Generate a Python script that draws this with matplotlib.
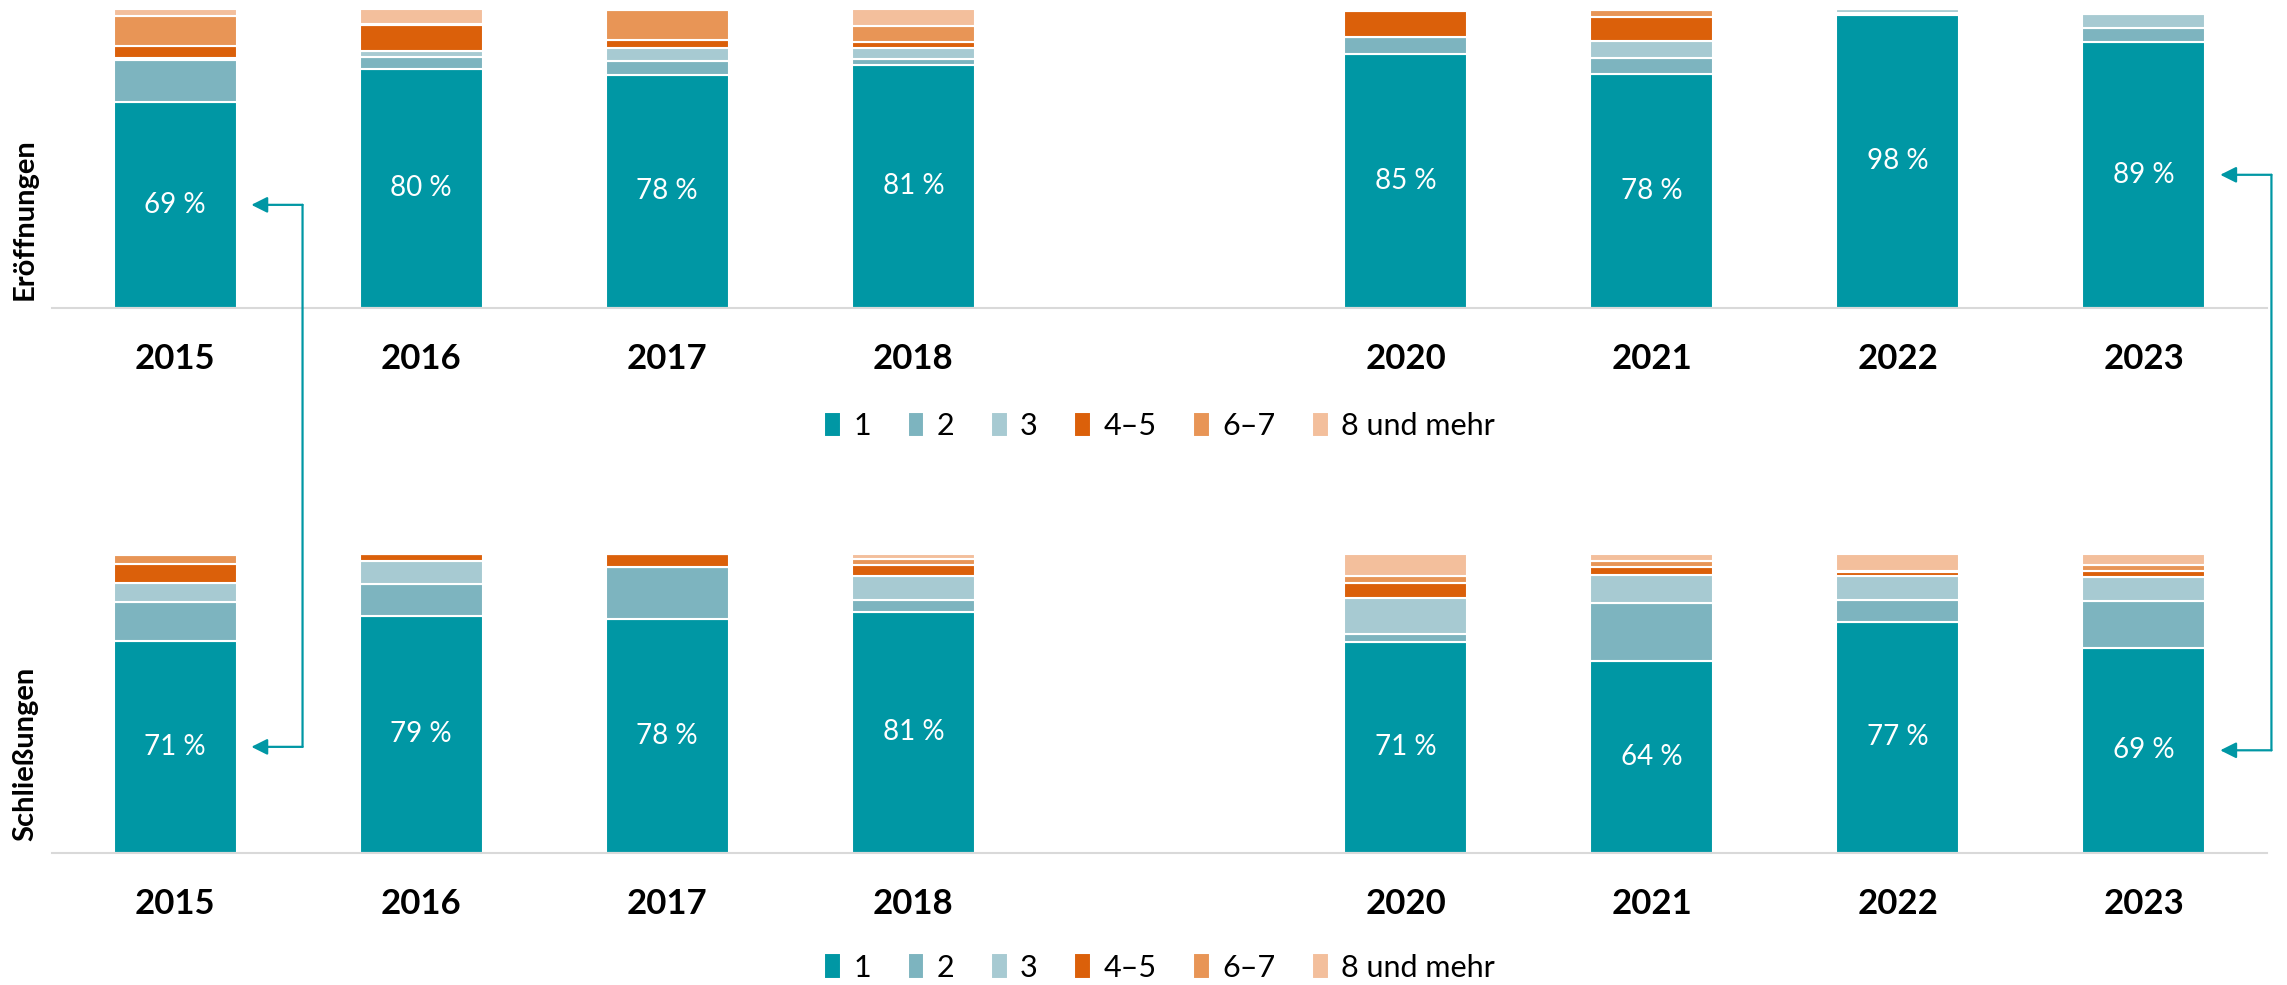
import matplotlib
matplotlib.use("Agg")
import matplotlib.pyplot as plt
from matplotlib.patches import ConnectionPatch

plt.rcParams['font.family'] = ['Lato', 'DejaVu Sans']

# Jahre (2019 fehlt -> Lücke im Diagramm)
years = ['2015', '2016', '2017', '2018', '2020', '2021', '2022', '2023']
slots = [0, 1, 2, 3, 5, 6, 7, 8]
groups = ['1', '2', '3', '4–5', '6–7', '8 und mehr']
colors = ['#0097A4', '#7DB4BF', '#A7CAD2', '#DB600A', '#E89556', '#F3BF9C']

# Eröffnungen, Anteile in %
eroeff_1 = [69, 80, 78, 81.4, 85, 78.4, 98, 89.1]
eroeff_2 = [14, 4, 4.5, 2, 5.5, 5.3, 0.5, 4.7]
eroeff_3 = [0.5, 2, 4.5, 3.5, 0.3, 5.7, 1.5, 4.4]
eroeff_45 = [4, 8.5, 2.5, 2, 8.5, 8, 0, 0.7]
eroeff_67 = [10, 0.5, 10, 5.5, 0.5, 2.3, 0, 0.8]
eroeff_8 = [2.5, 5, 0.5, 5.6, 0.2, 0.3, 0, 0.3]

# Schließungen, Anteile in %
schl_1 = [71, 79.4, 78.4, 80.7, 70.7, 64.3, 77.3, 68.7]
schl_2 = [12.8, 10.5, 17.2, 3.9, 2.5, 19.2, 7.3, 15.7]
schl_3 = [6.5, 7.8, 0.2, 7.9, 12.2, 9.5, 7.9, 7.9]
schl_45 = [6.5, 2.3, 4.2, 3.8, 5.0, 2.5, 1.6, 2.0]
schl_67 = [3, 0, 0, 2.0, 2.4, 2.3, 0.3, 2.0]
schl_8 = [0.2, 0, 0, 1.7, 7.2, 2.2, 5.6, 3.7]

teal = '#0097A4'

fig = plt.figure(figsize=(22.87, 9.85), dpi=100)
ax1 = fig.add_axes([52 / 2287, 1 - 308 / 985, 2215 / 2287, 299 / 985])
ax2 = fig.add_axes([52 / 2287, 1 - 853 / 985, 2215 / 2287, 299 / 985])


def draw_panel(ax, series, leg_y):
    bottom = [0] * len(slots)
    for vals, name, col in zip(series, groups, colors):
        ax.bar(slots, vals, bottom=bottom, width=0.5, color=col,
               edgecolor='white', linewidth=1.5, label=name)
        bottom = [b + v for b, v in zip(bottom, vals)]
    for x, v in zip(slots, series[0]):
        ax.text(x, v / 2, f'{round(v)} %', ha='center', va='center',
                color='white', fontsize=20)
    ax.set_xlim(-0.5, 8.5)
    ax.set_ylim(0, 100)
    ax.set_xticks(slots)
    ax.set_xticklabels(years, fontsize=25, fontweight='bold')
    ax.tick_params(axis='x', length=0, pad=25)
    ax.set_yticks([])
    for s in ['top', 'left', 'right']:
        ax.spines[s].set_visible(False)
    ax.spines['bottom'].set_color('#D9D9D9')
    ax.spines['bottom'].set_linewidth(1.5)
    ax.legend(loc='center', bbox_to_anchor=(0.5, leg_y), ncol=6, frameon=False,
              fontsize=22, handlelength=0.55, handleheight=0.9,
              handletextpad=0.4, columnspacing=1.2)


draw_panel(ax1, [eroeff_1, eroeff_2, eroeff_3, eroeff_45, eroeff_67, eroeff_8], -0.395)
draw_panel(ax2, [schl_1, schl_2, schl_3, schl_45, schl_67, schl_8], -0.383)

fig.text(25 / 2287, 1 - 219 / 985, 'Eröffnungen', rotation=90, ha='center',
         va='center', fontsize=21, fontweight='bold')
fig.text(25 / 2287, 1 - 754 / 985, 'Schließungen', rotation=90, ha='center',
         va='center', fontsize=21, fontweight='bold')

# Verbindungspfeile 2015 und 2023 (rechts neben dem Balken)
aprops = dict(arrowstyle='-|>', color=teal, lw=1.6, mutation_scale=24,
              shrinkA=0, shrinkB=0)
for i in [0, 7]:
    x = slots[i]
    y_top = eroeff_1[i] / 2
    y_bot = schl_1[i] / 2
    con = ConnectionPatch(xyA=(x + 0.518, y_top), coordsA=ax1.transData,
                          xyB=(x + 0.518, y_bot), coordsB=ax2.transData,
                          color=teal, lw=1.6)
    fig.add_artist(con)
    ax1.annotate('', xy=(x + 0.31, y_top), xytext=(x + 0.518, y_top),
                 arrowprops=aprops, annotation_clip=False)
    ax2.annotate('', xy=(x + 0.31, y_bot), xytext=(x + 0.518, y_bot),
                 arrowprops=aprops, annotation_clip=False)

fig.savefig('out.png', dpi=100)
